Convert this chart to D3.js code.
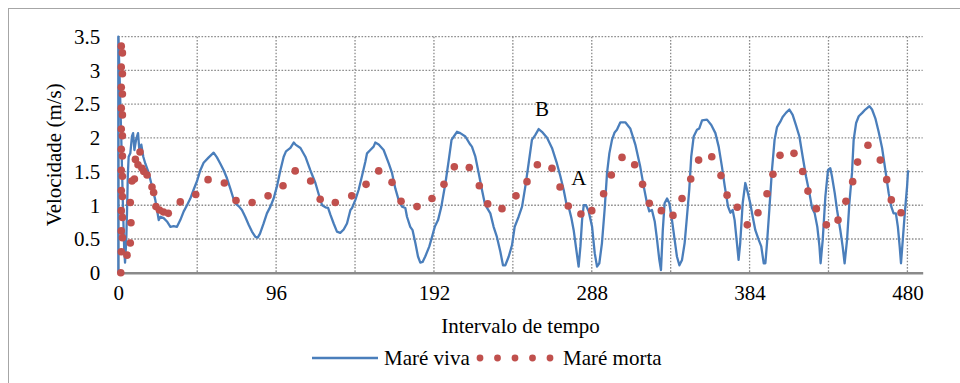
<!DOCTYPE html>
<html>
<head>
<meta charset="utf-8">
<script src="https://cdn.jsdelivr.net/npm/d3@7"></script>
<style>
  html, body { margin: 0; padding: 0; background: #fff; }
  svg { display: block; }
  svg text { font-family: "Liberation Serif", Tinos, "Times New Roman", Times, "DejaVu Serif", serif; fill: #000; }
</style>
</head>
<body>
<svg id="chart" width="960" height="383"></svg>
<script>
// Maré viva: continuous velocity record (time interval, m/s)
const vivaX = [0,0,0.8,1.8,2.8,3.6,4.1,4.8,5.3,5.8,6.3,7.3,8.3,9.0,9.8,10.8,12,12.8,14,15.2,16.4,18.5,20.5,22.5,24.6,25.6,27.6,29.6,31.7,33.7,35.7,37.7,39.8,41.8,43.8,45.8,47.9,49.9,51.9,55,58,60,62,64.1,66.1,68.1,70,71.6,73.5,75.2,77.2,79.3,81.3,83.4,84.8,86.2,88.4,90.4,92.5,94.5,96.5,98.6,100.6,102,104.7,106.7,107.8,110.8,113.8,116.8,119.9,122.3,124,126,127.6,129,131,133,135,137.1,139.1,141.2,142.2,144.2,146.2,148.2,150.3,151.3,153.3,155.3,156.3,158.4,161.4,164.5,166.5,168.5,170.5,172.6,174.6,175.6,177.6,179,180.7,182.3,183.7,185.1,186.7,189.2,190.8,192.5,194.5,196.5,199,201,202.7,204.1,206,208,211.1,214.1,215.1,217.2,219.2,221.2,222.9,224.3,226.3,228.3,230.3,232.4,234,235.4,237.5,239.5,241.1,243.5,245.6,247.6,249.6,251.6,253.6,255.7,257.7,260.8,263.8,266.8,268.9,270.9,272.5,273.9,275.6,277,278.6,280,281.1,282.1,283.1,284.5,286.1,288.2,289.8,291.2,292.6,294.2,295.8,297.3,298.7,300.3,301.9,303.3,305.4,308.4,311.4,314.5,317.5,319.6,321.6,323,324.6,326.3,327.7,329.1,330.1,331.2,332.3,333.8,335.2,336.8,338.4,339.8,341.3,342.9,344.5,345.9,347.3,348.5,350,352,353.4,355.1,358.1,360.7,363.2,365.2,367.2,368.9,370.9,372.3,373.7,374.9,376.3,377.3,378.3,379.8,381.4,383,384.4,385.9,387.5,389.5,391.1,392.6,393.6,394.6,396,397.6,399.2,400.7,402.7,404.1,406.1,408.2,410.2,412.2,414.3,416.3,418.3,420.4,422,423.6,425.2,426.5,427.2,428.5,430.1,431.7,433.1,434.1,435.8,437.2,439.2,440.6,441.8,443.3,444.7,446.3,447.3,448.8,450.4,452.5,454.4,456.9,458.5,460.5,462.5,464.6,466.6,468.6,470.2,471.6,473,474.2,475.3,476.1,477.2,478.4,479.8,480.4];
const vivaY = [0,3.5,2.9,2.0,1.0,0.35,0.15,0.45,0.9,1.45,1.72,1.77,2.02,2.07,1.82,1.97,2.07,1.82,1.9,1.72,1.62,1.48,1.28,1.08,0.78,0.83,0.81,0.76,0.68,0.69,0.68,0.78,0.91,1.0,1.1,1.23,1.36,1.52,1.63,1.71,1.78,1.71,1.62,1.52,1.4,1.25,1.1,1.02,0.98,0.93,0.83,0.71,0.61,0.53,0.52,0.58,0.73,0.88,0.98,1.1,1.28,1.52,1.72,1.8,1.85,1.93,1.9,1.85,1.72,1.52,1.33,1.13,1.0,0.97,0.96,0.86,0.73,0.61,0.59,0.64,0.73,0.93,0.96,1.08,1.23,1.43,1.65,1.77,1.82,1.87,1.93,1.9,1.82,1.62,1.48,1.25,1.08,0.98,0.96,0.83,0.68,0.63,0.44,0.24,0.15,0.16,0.24,0.39,0.53,0.68,0.78,0.98,1.33,1.67,1.97,2.02,2.09,2.07,2.02,1.9,1.87,1.72,1.48,1.23,1.03,0.96,0.88,0.68,0.53,0.31,0.11,0.11,0.24,0.41,0.68,0.83,0.98,1.28,1.62,1.97,2.04,2.13,2.09,2.0,1.85,1.62,1.43,1.23,1.03,0.98,0.81,0.63,0.34,0.09,0.39,0.78,1.0,1.0,0.91,0.68,0.29,0.09,0.14,0.44,0.93,1.48,1.77,1.97,2.08,2.12,2.23,2.23,2.14,1.9,1.57,1.28,1.03,0.91,0.93,0.76,0.49,0.19,0.04,0.63,1.03,1.1,1.03,0.78,0.49,0.24,0.11,0.19,0.44,0.83,1.23,1.72,2.02,2.12,2.14,2.26,2.27,2.19,2.07,1.87,1.57,1.28,0.98,0.89,0.93,0.78,0.44,0.19,0.44,1.03,1.33,1.18,1.03,0.83,0.63,0.49,0.39,0.14,0.14,0.44,0.93,1.52,1.97,2.16,2.24,2.31,2.37,2.42,2.34,2.19,2.02,1.72,1.43,1.18,0.96,0.88,0.68,0.39,0.14,0.49,1.13,1.52,1.55,1.43,1.18,0.93,0.63,0.39,0.14,0.49,1.03,1.48,1.97,2.22,2.32,2.37,2.42,2.47,2.42,2.29,2.09,1.85,1.52,1.18,0.98,0.88,0.88,0.68,0.39,0.14,0.49,0.88,1.28,1.52];

// Maré morta: sampled velocities (time interval, m/s)
const mortaX = [1.8,2.5,1.8,2.5,1.8,2.5,1.8,2.5,1.8,2.5,1.8,2.5,1.8,2.5,1.8,2.5,1.8,2.5,1.8,2.5,1.8,1.5,5.3,7.3,7.7,7.3,8.3,9.8,10.4,12,13.2,14.4,15.5,17.5,20.5,21.5,22.9,25,27.5,30.4,37.7,47.1,54.6,64.5,71.6,81.4,91.1,100.2,107.6,117,122.8,132,142,150.7,158.4,166.5,172,181.7,190.8,198.1,204.4,213.5,219.6,224.7,233.4,241.9,248.6,254.9,263.8,268.7,273.7,281.4,288,295.2,299.9,306.4,314.1,318.9,323,330.3,337.4,342.9,348.2,353,361,366.6,370.3,376.5,382.6,389.1,394.6,398.2,402.5,411,416.3,419.5,424.6,430.7,437.8,442.6,446.7,449.7,456,463.5,467.4,470.2,476.1];
const mortaY = [3.36,3.26,3.05,2.95,2.75,2.65,2.44,2.34,2.13,2.03,1.83,1.73,1.52,1.43,1.22,1.13,0.92,0.82,0.62,0.52,0.31,0,0.26,0.44,0.74,1.04,1.36,1.39,1.68,1.6,1.79,1.55,1.5,1.45,1.27,1.19,0.98,0.93,0.9,0.88,1.05,1.16,1.38,1.33,1.07,1.04,1.14,1.29,1.51,1.36,1.09,1.04,1.14,1.31,1.51,1.34,1.06,0.98,1.10,1.31,1.57,1.56,1.29,1.02,0.95,1.14,1.35,1.60,1.55,1.27,0.99,0.87,0.92,1.17,1.45,1.71,1.60,1.31,1.03,0.92,0.85,1.10,1.39,1.67,1.72,1.44,1.15,0.97,0.71,0.89,1.17,1.46,1.74,1.77,1.50,1.21,0.95,0.71,0.78,1.06,1.35,1.64,1.89,1.67,1.38,1.08,0.89];

// Axis ticks and gridlines
const xTicks = [0, 96, 192, 288, 384, 480];
const xGrid = [48, 96, 144, 192, 240, 288, 336, 384, 432, 480];
const yTicks = [0, 0.5, 1, 1.5, 2, 2.5, 3, 3.5];

// Point annotations
const notes = [{label: "B", x: 257.7, y: 2.33}, {label: "A", x: 280.2, y: 1.30}];

const seriesNames = ["Maré viva", "Maré morta"];
const colors = {viva: "#4a7ebb", morta: "#c0504d", grid: "#8c8c8c", axis: "#8a8a8a"};
const serif = '"Liberation Serif", Tinos, "Times New Roman", Times, "DejaVu Serif", serif';

const svg = d3.select("#chart");

// Outer chart frame
svg.append("rect")
  .attr("x", 8.5).attr("y", 8.5)
  .attr("width", 1000).attr("height", 1000)
  .attr("fill", "none").attr("stroke", "#a6a6a6").attr("stroke-width", 1);

const x = d3.scaleLinear().domain([0, 489.3]).range([118.3, 922.7]);
const y = d3.scaleLinear().domain([0, 3.5]).range([272.7, 36.7]);

const fontSize = 21;

// Gridlines
const grid = svg.append("g");
grid.selectAll("line.h").data(yTicks.filter(d => d > 0)).join("line")
  .attr("x1", x(0)).attr("x2", x(489.3))
  .attr("y1", d => y(d)).attr("y2", d => y(d))
  .attr("stroke", colors.grid).attr("stroke-width", 1.3)
  .attr("stroke-dasharray", "1.6,1.6");
grid.selectAll("line.v").data(xGrid).join("line")
  .attr("x1", d => x(d)).attr("x2", d => x(d))
  .attr("y1", y(3.5)).attr("y2", y(0))
  .attr("stroke", colors.grid).attr("stroke-width", 1.3)
  .attr("stroke-dasharray", "1.6,1.6");

// Axes
const xAxis = d3.axisBottom(x).tickValues(xTicks).tickSize(0).tickPadding(12).tickFormat(d3.format("d"));
const gx = svg.append("g").attr("transform", `translate(0,${y(0)})`).call(xAxis);
gx.attr("font-family", null).attr("font-size", null);
gx.select(".domain").attr("stroke", colors.axis).attr("stroke-width", 2.6);
gx.selectAll("text").style("font-family", serif).style("font-size", fontSize + "px").attr("dy", "0.71em");

const yAxis = d3.axisLeft(y).tickValues(yTicks).tickSize(0).tickPadding(18).tickFormat(d => d);
const gy = svg.append("g").attr("transform", `translate(${x(0)},0)`).call(yAxis);
gy.attr("font-family", null).attr("font-size", null);
gy.select(".domain").attr("stroke", colors.axis).attr("stroke-width", 1.4);
gy.selectAll("text").style("font-family", serif).style("font-size", fontSize + "px");

// Maré viva line
const line = d3.line().x(i => x(vivaX[i])).y(i => y(vivaY[i]));
svg.append("path")
  .attr("d", line(d3.range(vivaX.length)))
  .attr("fill", "none").attr("stroke", colors.viva)
  .attr("stroke-width", 2.3).attr("stroke-linejoin", "round");

// Maré morta markers
svg.append("g").selectAll("circle").data(d3.range(mortaX.length)).join("circle")
  .attr("cx", i => x(mortaX[i])).attr("cy", i => y(mortaY[i]))
  .attr("r", 3.8).attr("fill", colors.morta);

// Annotations
svg.append("g").selectAll("text").data(notes).join("text")
  .attr("x", d => x(d.x)).attr("y", d => y(d.y))
  .attr("text-anchor", "middle").style("font-size", fontSize + "px")
  .text(d => d.label);

// Axis titles
svg.append("text")
  .attr("x", (x(0) + x(489.3)) / 2).attr("y", 333)
  .attr("text-anchor", "middle").style("font-size", fontSize + "px")
  .text("Intervalo de tempo");
svg.append("text")
  .attr("transform", `translate(60.5,${(y(0) + y(3.5)) / 2}) rotate(-90)`)
  .attr("text-anchor", "middle").style("font-size", fontSize + "px")
  .text("Velocidade (m/s)");

// Legend
const lg = svg.append("g");
const legendY = 358;
lg.append("line").attr("x1", 312).attr("x2", 378).attr("y1", legendY).attr("y2", legendY)
  .attr("stroke", colors.viva).attr("stroke-width", 2.6);
lg.append("text").attr("x", 384).attr("y", legendY + 7).style("font-size", fontSize + "px").text(seriesNames[0]);
lg.selectAll("circle").data(d3.range(5)).join("circle")
  .attr("cx", i => 480 + i * 17.5).attr("cy", legendY).attr("r", 3.4).attr("fill", colors.morta);
lg.append("text").attr("x", 563).attr("y", legendY + 7).style("font-size", fontSize + "px").text(seriesNames[1]);
</script>
</body>
</html>
